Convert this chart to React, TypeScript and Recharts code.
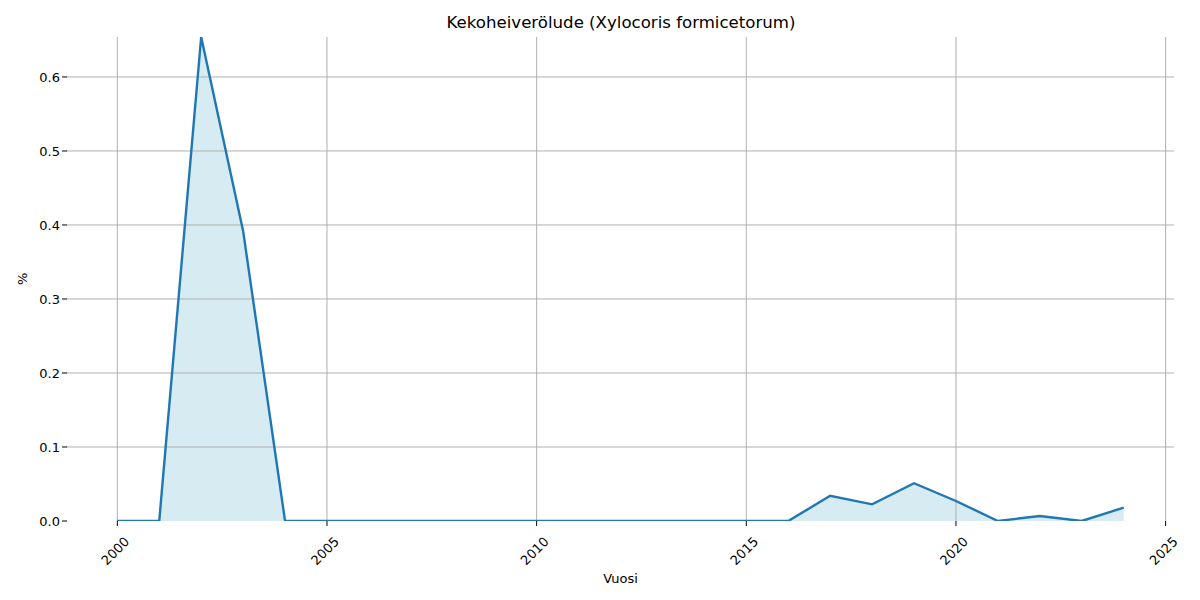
import React from 'react';
import { ComposedChart, Area, Line, XAxis, YAxis, ReferenceLine, Label } from 'recharts';

const years = [2000, 2001, 2002, 2003, 2004, 2005, 2006, 2007, 2008, 2009, 2010, 2011, 2012, 2013, 2014, 2015, 2016, 2017, 2018, 2019, 2020, 2021, 2022, 2023, 2024];
const shares = [0, 0, 0.654, 0.392, 0, 0, 0, 0, 0, 0, 0, 0, 0, 0, 0, 0, 0, 0.034, 0.0225, 0.051, 0.027, 0, 0.0068, 0, 0.018];
const xTicks = [2000, 2005, 2010, 2015, 2020, 2025];
const yTicks = [0, 0.1, 0.2, 0.3, 0.4, 0.5, 0.6];

const data = years.map((y, i) => ({ year: y, value: shares[i] }));

const FONT = '"DejaVu Sans", sans-serif';
const GRID = '#b0b0b0';

const RotatedTick = (props: any) => {
  const { x, y, payload } = props;
  const cx = x - 2;
  const cy = y + 23;
  return (
    <text
      x={cx}
      y={cy}
      transform={`rotate(-45, ${cx}, ${cy})`}
      textAnchor="middle"
      dominantBaseline="central"
      fontSize={13}
      fontFamily={FONT}
      fill="#000"
    >
      {payload.value}
    </text>
  );
};

const App: React.FC = () => {
  return (
    <div style={{ position: 'absolute', left: 0, top: 0, width: 1200, height: 600, background: '#fff', fontFamily: FONT }}>
      <div style={{ position: 'absolute', top: 13, left: 0, width: 1242, textAlign: 'center', fontSize: 16.6, color: '#000' }}>
        Kekoheiverölude (Xylocoris formicetorum)
      </div>
      <ComposedChart width={1200} height={600} data={data} margin={{ top: 37, right: 26, bottom: 0, left: 0 }}>
        <XAxis
          dataKey="year"
          type="number"
          domain={[1998.8, 2025.2]}
          ticks={xTicks}
          allowDataOverflow
          axisLine={false}
          tickLine={{ stroke: '#000' }}
          tickSize={5}
          height={79}
          tick={<RotatedTick />}
          interval={0}
        >
          <Label value="Vuosi" position="insideBottom" offset={17} fontSize={13} fontFamily={FONT} fill="#000" />
        </XAxis>
        <YAxis
          type="number"
          domain={[0, 0.654]}
          ticks={yTicks}
          allowDataOverflow
          axisLine={false}
          tickLine={{ stroke: '#000' }}
          tickSize={5}
          width={67}
          tickFormatter={(v: number) => v.toFixed(1)}
          tick={{ fontSize: 13, fontFamily: FONT, fill: '#000' }}
          interval={0}
        >
          <Label value="%" angle={-90} position="insideLeft" offset={22} dy={6} fontSize={13} fontFamily={FONT} fill="#000" />
        </YAxis>
        {xTicks.map((t) => (
          <ReferenceLine key={`vx-${t}`} x={t} stroke={GRID} strokeWidth={1} />
        ))}
        {yTicks.filter((t) => t > 0).map((t) => (
          <ReferenceLine key={`hy-${t}`} y={t} stroke={GRID} strokeWidth={1} />
        ))}
        <Area dataKey="value" type="linear" stroke="none" fill="#add8e6" fillOpacity={0.5} isAnimationActive={false} />
        <Line dataKey="value" type="linear" stroke="#1f77b4" strokeWidth={2.4} dot={false} activeDot={false} isAnimationActive={false} />
      </ComposedChart>
    </div>
  );
};

export default App;
